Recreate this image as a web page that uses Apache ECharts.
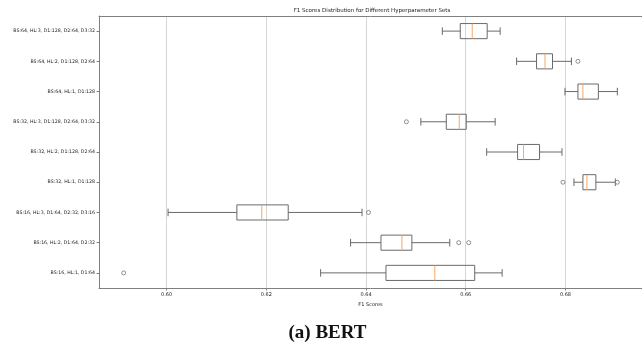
<!DOCTYPE html>
<html>
<head>
<meta charset="utf-8">
<script src="https://cdn.jsdelivr.net/npm/echarts@6/dist/echarts.min.js"></script>
<style>
html,body{margin:0;padding:0;background:#fff;}
#chart{width:642px;height:347px;}
</style>
</head>
<body>
<div id="chart"></div>
<script>
const categories = [
  'BS:16, HL:1, D1:64',
  'BS:16, HL:2, D1:64, D2:32',
  'BS:16, HL:3, D1:64, D2:32, D3:16',
  'BS:32, HL:1, D1:128',
  'BS:32, HL:2, D1:128, D2:64',
  'BS:32, HL:3, D1:128, D2:64, D3:32',
  'BS:64, HL:1, D1:128',
  'BS:64, HL:2, D1:128, D2:64',
  'BS:64, HL:3, D1:128, D2:64, D3:32'
];
const whiskerLow  = [0.6309, 0.6369, 0.6003, 0.6817, 0.6642, 0.6510, 0.6799, 0.6702, 0.6553];
const q1          = [0.6440, 0.6430, 0.6141, 0.6835, 0.6704, 0.6561, 0.6825, 0.6742, 0.6589];
const median      = [0.6538, 0.6472, 0.6191, 0.6843, 0.6716, 0.6587, 0.6835, 0.6759, 0.6613];
const q3          = [0.6618, 0.6492, 0.6244, 0.6861, 0.6748, 0.6601, 0.6866, 0.6774, 0.6643];
const whiskerHigh = [0.6673, 0.6568, 0.6392, 0.6900, 0.6793, 0.6659, 0.6904, 0.6812, 0.6669];
const outlierValues = [0.5914, 0.6586, 0.6606, 0.6405, 0.6795, 0.6904, 0.6481, 0.6825];
const outlierRows   = [0, 1, 1, 2, 3, 3, 5, 7];
const xTicks = [0.60, 0.62, 0.64, 0.66, 0.68];
const xMin = 0.58645, xMax = 0.69535;

const boxData = categories.map((c, i) => [i, whiskerLow[i], q1[i], median[i], q3[i], whiskerHigh[i]]);
const outlierData = outlierValues.map((v, i) => [v, outlierRows[i]]);

const boxColor = '#6a6a6a';
const medColor = '#f6a863';
const spine = '#808080';

const chart = echarts.init(document.getElementById('chart'), null, {renderer: 'canvas'});
chart.setOption({
  animation: false,
  backgroundColor: '#fff',
  title: {
    text: 'F1 Scores Distribution for Different Hyperparameter Sets',
    left: 372, top: 8, textAlign: 'center', padding: 0,
    textStyle: {fontFamily: 'DejaVu Sans', fontSize: 5.5, fontWeight: 'normal', color: '#222'}
  },
  grid: {left: 99, top: 16, width: 546, height: 272, show: false},
  xAxis: [
    {
      type: 'value', min: xMin, max: xMax,
      name: 'F1 Scores', nameLocation: 'middle', nameGap: 13,
      nameTextStyle: {fontFamily: 'DejaVu Sans', fontSize: 5, color: '#222'},
      axisLine: {show: true, lineStyle: {color: spine, width: 1}},
      axisTick: {show: true, length: 2.5, customValues: xTicks, lineStyle: {color: spine}},
      axisLabel: {customValues: xTicks, fontFamily: 'DejaVu Sans', fontSize: 5, color: '#222', margin: 4,
        formatter: v => v.toFixed(2)},
      splitLine: {show: true, lineStyle: {color: '#d6d6d6', width: 1}}
    },
    {
      type: 'value', position: 'top', min: xMin, max: xMax,
      axisLine: {show: true, onZero: false, lineStyle: {color: spine, width: 1}},
      axisTick: {show: false}, axisLabel: {show: false}, splitLine: {show: false}
    }
  ],
  yAxis: {
    type: 'category', data: categories, boundaryGap: true,
    axisLine: {show: true, lineStyle: {color: spine, width: 1}},
    axisTick: {show: true, alignWithLabel: true, length: 2.5, lineStyle: {color: spine}},
    axisLabel: {fontFamily: 'DejaVu Sans', fontSize: 4.7, color: '#222', margin: 4},
    splitLine: {show: false}
  },
  series: [
    {
      type: 'custom',
      data: boxData,
      encode: {x: [1, 2, 3, 4, 5], y: 0},
      renderItem: function (params, api) {
        const idx = api.value(0);
        const lo = api.coord([api.value(1), idx]);
        const a = api.coord([api.value(2), idx]);
        const m = api.coord([api.value(3), idx]);
        const b = api.coord([api.value(4), idx]);
        const hi = api.coord([api.value(5), idx]);
        const band = api.size([0, 1])[1];
        const bh = band * 0.5 / 2;
        const ch = band * 0.25 / 2;
        const y = lo[1];
        const st = {stroke: boxColor, lineWidth: 1, fill: null};
        return {
          type: 'group',
          children: [
            {type: 'line', shape: {x1: lo[0], y1: y, x2: a[0], y2: y}, style: st},
            {type: 'line', shape: {x1: b[0], y1: y, x2: hi[0], y2: y}, style: st},
            {type: 'line', shape: {x1: lo[0], y1: y - ch, x2: lo[0], y2: y + ch}, style: st},
            {type: 'line', shape: {x1: hi[0], y1: y - ch, x2: hi[0], y2: y + ch}, style: st},
            {type: 'rect', shape: {x: a[0], y: y - bh, width: b[0] - a[0], height: 2 * bh},
              style: {stroke: boxColor, lineWidth: 1, fill: 'none'}},
            {type: 'line', shape: {x1: m[0], y1: y - bh, x2: m[0], y2: y + bh},
              style: {stroke: medColor, lineWidth: 1}}
          ]
        };
      },
      z: 3
    },
    {
      type: 'scatter',
      data: outlierData,
      symbol: 'circle',
      symbolSize: 4,
      itemStyle: {color: '#fff', borderColor: '#555', borderWidth: 0.8},
      z: 4
    }
  ],
  graphic: [
    {
      type: 'text', x: 327.5, y: 333,
      style: {text: '(a) BERT', textAlign: 'center', textVerticalAlign: 'middle',
        fontFamily: 'Liberation Serif', fontWeight: 'bold', fontSize: 19, fill: '#111'}
    }
  ]
});
</script>
</body>
</html>
